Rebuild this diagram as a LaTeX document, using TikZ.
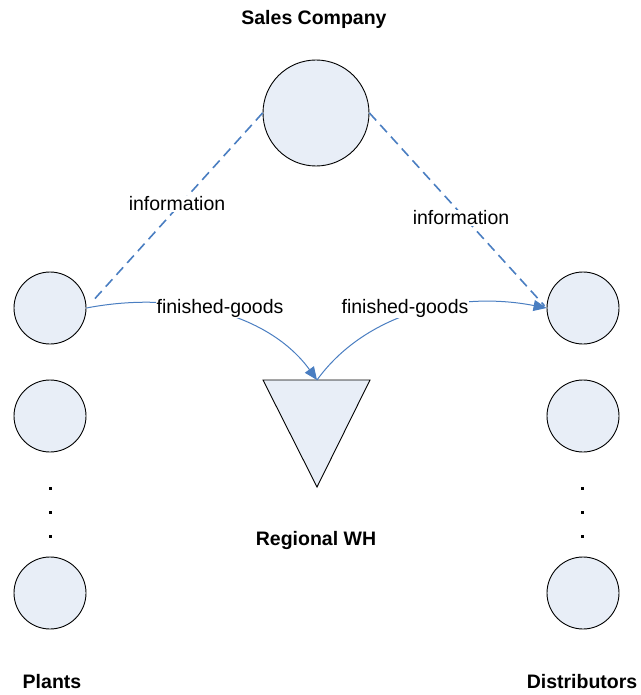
\documentclass[tikz,border=0pt]{standalone}
\usepackage{fontspec}
\setmainfont{Liberation Sans}
\usetikzlibrary{arrows.meta}
\definecolor{nodefill}{RGB}{232,238,247}
\definecolor{linkblue}{RGB}{74,126,193}
\begin{document}
\begin{tikzpicture}[x=1bp,y=-1bp,
  entity/.style={circle,draw=black,line width=0.9bp,fill=nodefill,minimum size=#1,inner sep=0pt},
  entity/.default=72bp,
  lbl/.style={font=\fontsize{19.5bp}{23bp}\selectfont,inner sep=1bp},
  title/.style={font=\fontsize{19.5bp}{23bp}\selectfont\bfseries,inner sep=0pt},
  infoline/.style={draw=linkblue,line width=1.6bp,dash pattern=on 10bp off 6bp},
  flowline/.style={draw=linkblue,line width=1bp,-{Triangle[length=13bp,width=11bp]}},
  dotmark/.style={fill=black,minimum size=3bp,inner sep=0pt}]
\useasboundingbox (0,0) rectangle (641,695);

% entities
\node[entity=106bp] (sc) at (316,113) {};
\node[entity] (p1) at (50,308) {};
\node[entity] (p2) at (50,416) {};
\node[entity] (p3) at (50,593) {};
\node[entity] (d1) at (583,308) {};
\node[entity] (d2) at (583,416) {};
\node[entity] (d3) at (583,593) {};

% dots
\foreach \yy [count=\i] in {488,512,536}{
  \node[dotmark] (pd\i) at (50,\yy) {};
  \node[dotmark] (dd\i) at (582,\yy) {};
}

% regional warehouse triangle
\coordinate (wh) at (317,380);
\coordinate (whl) at (263,380);
\coordinate (whr) at (370,380);
\coordinate (whb) at (317,487);
\draw[fill=nodefill,line width=0.9bp] (whl) -- (whr) -- (whb) -- cycle;

% information links
\draw[infoline,shorten >=8bp] (sc.west) -- (p1.east);
\draw[infoline,shorten >=3bp] (sc.east) -- (d1.west);
\node[lbl,fill=white] (i1) at (177,204) {information};
\node[lbl,fill=white] (i2) at (461,218) {information};

% finished goods links
\draw[flowline] (p1.east) .. controls (180,290) and (270,315) .. (wh);
\draw[flowline] (wh) .. controls (364,315) and (454,290) .. (d1.west);
\node[lbl,fill=white] (f1) at (220,308) {finished-goods};
\node[lbl,fill=white] (f2) at (405,308) {finished-goods};

% titles
\node[title] (tsc) at (314,19) {Sales Company};
\node[title] (twh) at (316,540) {Regional WH};
\node[title] (tp) at (52,682) {Plants};
\node[title] (td) at (582,682) {Distributors};
\end{tikzpicture}
\end{document}
